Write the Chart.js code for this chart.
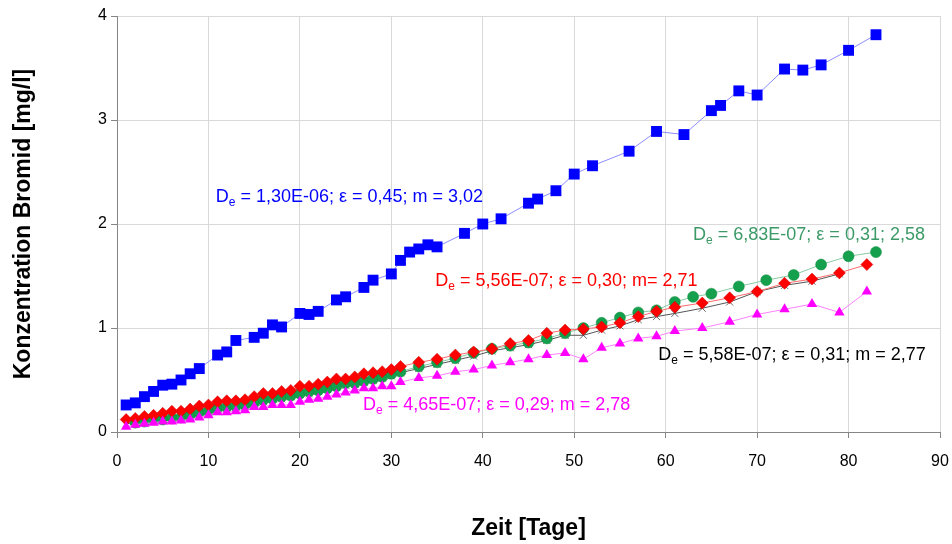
<!DOCTYPE html>
<html>
<head>
<meta charset="utf-8">
<script src="https://cdn.jsdelivr.net/npm/chart.js@4.4.1/dist/chart.umd.min.js"></script>
<style>
  html, body { margin: 0; padding: 0; background: #fff; }
  canvas { display: block; }
</style>
</head>
<body>
<canvas id="chart" width="952" height="544"></canvas>
<script>
// Messreihen: Zeit [Tage] gegen Konzentration Bromid [mg/l]
const dailyDays = [1, 2, 3, 4, 5, 6, 7, 8, 9, 10, 11, 12, 13, 14, 15, 16, 17, 18, 19, 20, 21, 22, 23, 24, 25, 26, 27, 28, 29, 30];

const blueDays = [1, 2, 3, 4, 5, 6, 7, 8, 9, 11, 12, 13, 15, 16, 17, 18, 20, 21, 22, 24, 25, 27, 28, 30, 31, 32, 33, 34, 35, 38, 40, 42, 45, 46, 48, 50, 52, 56, 59, 62, 65, 66, 68, 70, 73, 75, 77, 80, 83];
const blueValues = [0.26, 0.28, 0.34, 0.39, 0.45, 0.46, 0.50, 0.56, 0.61, 0.74, 0.77, 0.88, 0.91, 0.95, 1.03, 1.01, 1.14, 1.13, 1.16, 1.27, 1.30, 1.39, 1.46, 1.52, 1.65, 1.73, 1.76, 1.80, 1.78, 1.91, 2.00, 2.05, 2.20, 2.24, 2.32, 2.48, 2.56, 2.70, 2.89, 2.86, 3.09, 3.14, 3.28, 3.24, 3.49, 3.48, 3.53, 3.67, 3.82];

const redLateDays = [31, 33, 35, 37, 39, 41, 43, 45, 47, 49, 51, 53, 55, 57, 59, 61, 64, 67, 70, 73, 76, 79, 82];
const redValues = [0.12, 0.13, 0.15, 0.16, 0.18, 0.20, 0.20, 0.22, 0.25, 0.26, 0.29, 0.30, 0.30, 0.31, 0.34, 0.37, 0.37, 0.39, 0.40, 0.44, 0.44, 0.46, 0.48, 0.51, 0.51, 0.53, 0.56, 0.57, 0.58, 0.60,
  0.63, 0.67, 0.70, 0.74, 0.77, 0.80, 0.85, 0.88, 0.95, 0.98, 0.99, 1.01, 1.05, 1.11, 1.16, 1.20, 1.24, 1.29, 1.35, 1.43, 1.47, 1.53, 1.61];

const greenEarlyDays = [2, 3, 4, 5, 6, 7, 8, 9, 10, 11, 12, 13, 14, 15, 16, 17, 18, 19, 20, 21, 22, 23, 24, 25, 26, 27, 28, 29, 30];
const greenLateDays = [31, 33, 35, 37, 39, 41, 43, 45, 47, 49, 51, 53, 55, 57, 59, 61, 63, 65, 68, 71, 74, 77, 80, 83];
const greenValues = [0.09, 0.10, 0.12, 0.12, 0.13, 0.14, 0.16, 0.19, 0.20, 0.23, 0.24, 0.25, 0.26, 0.28, 0.31, 0.32, 0.34, 0.35, 0.37, 0.39, 0.40, 0.42, 0.44, 0.47, 0.47, 0.49, 0.51, 0.53, 0.56,
  0.58, 0.63, 0.67, 0.71, 0.76, 0.80, 0.83, 0.86, 0.90, 0.95, 1.00, 1.05, 1.10, 1.15, 1.17, 1.25, 1.30, 1.33, 1.40, 1.46, 1.51, 1.61, 1.69, 1.73];

const blackLateDays = [31, 33, 35, 37, 39, 41, 43, 45, 47, 49, 51, 53, 55, 57, 59, 61, 64, 67, 70, 73, 76, 79];
const blackValues = [0.08, 0.09, 0.10, 0.11, 0.12, 0.13, 0.14, 0.16, 0.18, 0.19, 0.21, 0.23, 0.24, 0.25, 0.27, 0.29, 0.31, 0.32, 0.34, 0.36, 0.37, 0.39, 0.41, 0.43, 0.45, 0.46, 0.48, 0.50, 0.52, 0.54,
  0.57, 0.61, 0.65, 0.69, 0.73, 0.78, 0.81, 0.84, 0.88, 0.93, 0.93, 0.98, 1.02, 1.08, 1.11, 1.14, 1.19, 1.25, 1.35, 1.41, 1.45, 1.52];

const magentaLateDays = [31, 33, 35, 37, 39, 41, 43, 45, 47, 49, 51, 53, 55, 57, 59, 61, 64, 67, 70, 73, 76, 79, 82];
const magentaValues = [0.05, 0.07, 0.08, 0.09, 0.10, 0.10, 0.11, 0.12, 0.14, 0.16, 0.19, 0.19, 0.20, 0.21, 0.24, 0.24, 0.26, 0.26, 0.26, 0.29, 0.31, 0.32, 0.34, 0.36, 0.38, 0.40, 0.42, 0.42, 0.44, 0.44,
  0.48, 0.52, 0.54, 0.58, 0.60, 0.64, 0.67, 0.70, 0.74, 0.76, 0.70, 0.81, 0.85, 0.90, 0.92, 0.97, 1.00, 1.06, 1.13, 1.18, 1.23, 1.15, 1.35];

const xTicks = [0, 10, 20, 30, 40, 50, 60, 70, 80, 90];
const yTicks = [0, 1, 2, 3, 4];

// Parameterangaben je Kurve (Lage in Achsenwerten)
const notes = [
  { text: " = 1,30E-06; ε = 0,45; m = 3,02", x: 10.8, y: 2.21, color: "#0000ff" },
  { text: " = 6,83E-07; ε = 0,31; 2,58", x: 63.0, y: 1.85, color: "#3c9a68" },
  { text: " = 5,56E-07; ε = 0,30; m= 2,71", x: 34.8, y: 1.40, color: "#ff0000" },
  { text: " = 5,58E-07; ε = 0,31; m = 2,77", x: 59.2, y: 0.69, color: "#000000" },
  { text: " = 4,65E-07; ε = 0,29; m = 2,78", x: 26.9, y: 0.21, color: "#ff00ff" },
];

function toPoints(days, values) {
  return days.map((d, i) => ({ x: d, y: values[i] }));
}

const FONT = "'Liberation Sans', Arial, sans-serif";

const notePlugin = {
  id: "notes",
  afterDatasetsDraw(chart) {
    const { ctx, scales } = chart;
    ctx.save();
    ctx.textBaseline = "alphabetic";
    ctx.textAlign = "left";
    notes.forEach((n) => {
      let px = scales.x.getPixelForValue(n.x);
      const py = scales.y.getPixelForValue(n.y);
      ctx.fillStyle = n.color;
      ctx.font = "18px " + FONT;
      ctx.fillText("D", px, py);
      px += ctx.measureText("D").width;
      ctx.font = "12px " + FONT;
      ctx.fillText("e", px, py + 4);
      px += ctx.measureText("e").width;
      ctx.font = "18px " + FONT;
      ctx.fillText(n.text, px, py);
    });
    ctx.restore();
  },
};

const gridColor = "#d9d9d9";
const axisColor = "#868686";

new Chart(document.getElementById("chart"), {
  type: "scatter",
  data: {
    datasets: [
      {
        data: toPoints(blueDays, blueValues),
        showLine: true,
        borderColor: "#8c8cff",
        borderWidth: 1,
        pointStyle: "rect",
        pointRadius: 7.7,
        pointBackgroundColor: "#0000ff",
        pointBorderColor: "#0000ff",
        pointBorderWidth: 0,
      },
      {
        data: toPoints(dailyDays.concat(magentaLateDays), magentaValues),
        showLine: true,
        borderColor: "#ff80ff",
        borderWidth: 1,
        pointStyle: "triangle",
        pointRadius: 6,
        pointBackgroundColor: "#ff00ff",
        pointBorderColor: "#ff00ff",
        pointBorderWidth: 0,
      },
      {
        data: toPoints(dailyDays.concat(redLateDays), redValues),
        showLine: true,
        borderColor: "#ff6a6a",
        borderWidth: 1,
        pointStyle: "rectRot",
        pointRadius: 6,
        pointBackgroundColor: "#ff0000",
        pointBorderColor: "#d00000",
        pointBorderWidth: 0.5,
      },
      {
        data: toPoints(greenEarlyDays.concat(greenLateDays), greenValues),
        showLine: true,
        borderColor: "#86caa2",
        borderWidth: 1,
        pointStyle: "circle",
        pointRadius: 5.5,
        pointBackgroundColor: "#14a04c",
        pointBorderColor: "#0e8a40",
        pointBorderWidth: 0.5,
      },
      {
        data: toPoints(dailyDays.concat(blackLateDays), blackValues),
        showLine: true,
        borderColor: "#555555",
        borderWidth: 1,
        pointStyle: "crossRot",
        pointRadius: 5,
        pointBorderColor: "#444444",
        pointBorderWidth: 0.8,
      },
    ],
  },
  options: {
    responsive: false,
    animation: false,
    devicePixelRatio: 1,
    layout: { padding: { top: 16, right: 12, left: 0, bottom: 0 } },
    plugins: { legend: { display: false }, tooltip: { enabled: false } },
    scales: {
      x: {
        type: "linear",
        min: 0,
        max: 90,
        afterBuildTicks: (axis) => { axis.ticks = xTicks.map((v) => ({ value: v })); },
        afterFit: (axis) => {
          axis.height = 112;
          axis.paddingLeft = 0;
          axis.paddingRight = 0;
        },
        grid: { color: gridColor, tickColor: axisColor, tickLength: 6 },
        border: { color: axisColor, width: 1 },
        ticks: { color: "#000", padding: 14, font: { family: FONT, size: 16 } },
        title: {
          display: true,
          text: "Zeit [Tage]",
          color: "#000",
          padding: { top: 0, bottom: 2 },
          font: { family: FONT, size: 23, weight: "bold" },
        },
      },
      y: {
        min: 0,
        max: 4,
        afterBuildTicks: (axis) => { axis.ticks = yTicks.map((v) => ({ value: v })); },
        afterFit: (axis) => { axis.width = 117; },
        grid: { color: gridColor, tickColor: axisColor, tickLength: 6 },
        border: { color: axisColor, width: 1 },
        ticks: { color: "#000", padding: 4, font: { family: FONT, size: 16 } },
        title: {
          display: true,
          text: "Konzentration Bromid [mg/l]",
          color: "#000",
          padding: { top: 10, bottom: 0 },
          font: { family: FONT, size: 23, weight: "bold" },
        },
      },
    },
  },
  plugins: [notePlugin],
});
</script>
</body>
</html>
